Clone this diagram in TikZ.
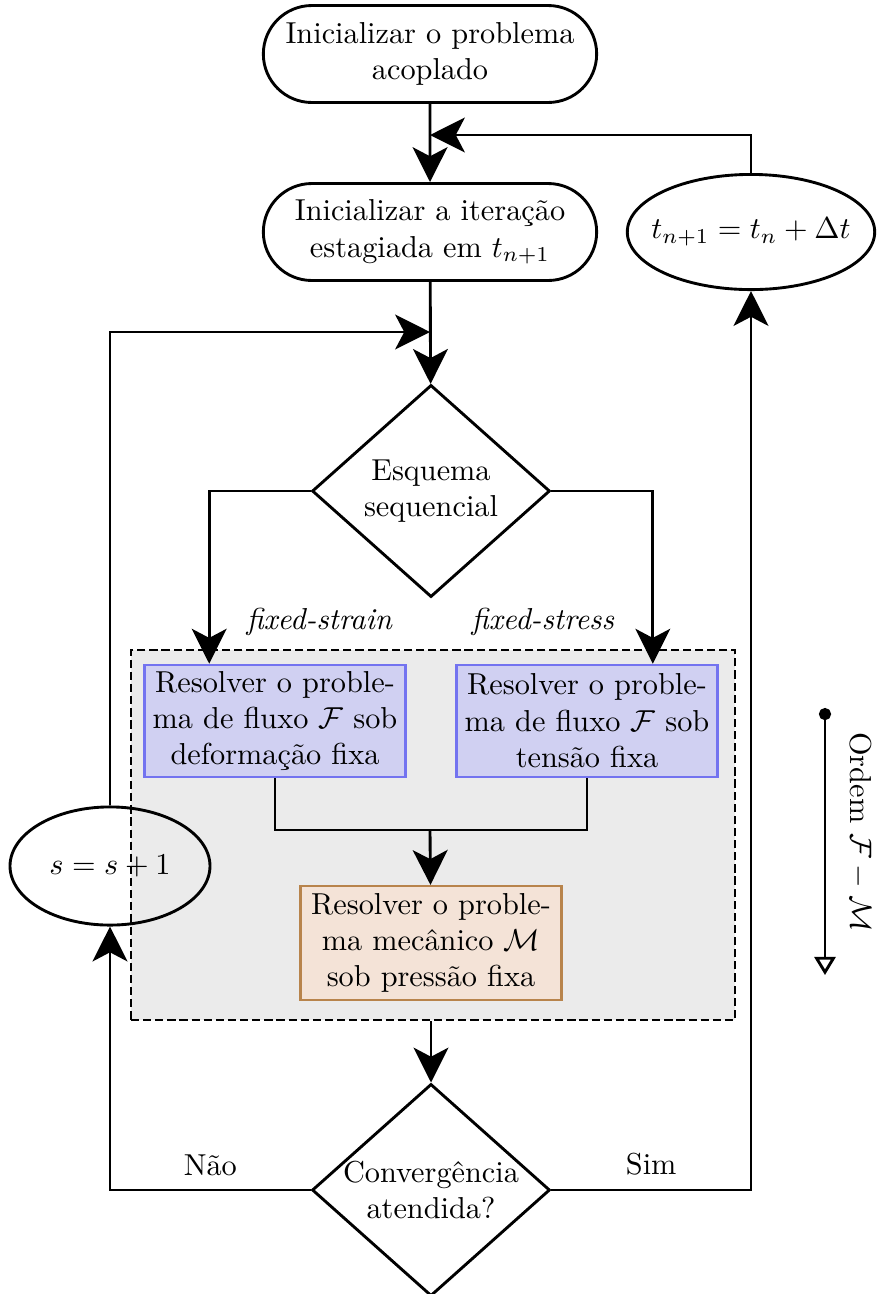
\documentclass[tikz,border=0pt]{standalone}
\usepackage{amsmath,amssymb}
\usepackage{tikz}
\usetikzlibrary{shapes.geometric,shapes.misc,arrows.meta,positioning,fit,backgrounds,calc}
\definecolor{flowBlue}{HTML}{D0D0F2}
\definecolor{flowBlueLine}{HTML}{7373F0}
\definecolor{mechTan}{HTML}{F4E3D7}
\definecolor{mechTanLine}{HTML}{B8844C}
\definecolor{frameGray}{HTML}{EBEBEB}

\begin{document}
\begin{tikzpicture}[
        x=0.33pt, y=-0.33pt,
        every node/.style={font=\normalsize},
        term/.style={rounded rectangle,draw,line width=0.95pt,minimum width=114pt,
                     minimum height=32pt,inner sep=2pt,align=center},
        oval/.style={ellipse,draw,line width=0.95pt,inner sep=0pt,align=center},
        decision/.style={diamond,draw,line width=0.95pt,minimum width=78.5pt,
                         minimum height=70pt,inner sep=-4pt,align=center},
        flowbox/.style={rectangle,draw=flowBlueLine,fill=flowBlue,line width=0.85pt,
                        minimum width=86pt,minimum height=37pt,inner sep=2pt,align=center},
        mechbox/.style={rectangle,draw=mechTanLine,fill=mechTan,line width=0.85pt,
                        minimum width=86pt,minimum height=37.5pt,inner sep=2pt,align=center},
        frame/.style={rectangle,draw,dash pattern=on 2.7pt off 1.3pt,fill=frameGray,
                      line width=0.75pt,inner sep=0pt},
        arr/.style={-{Stealth[length=11.5pt,width=11.5pt,inset=3pt]},line width=0.95pt},
        line/.style={line width=0.95pt}
      ]
        \useasboundingbox (0,0) rectangle (877,1294);

        % main column
        \node[term] (init) at (430,54) {Inicializar o problema\\acoplado};
        \node[term] (stage) at (430,232) {Inicializar a itera\c{c}\~ao\\estagiada em $t_{n+1}$};
        \node[oval,minimum width=80pt,minimum height=38pt,inner sep=-4pt] (tstep) at (751,232) {$t_{n+1} = t_n + \Delta t$};
        \node[decision] (scheme) at (431,491) {Esquema\\sequencial};

        % staggered solvers
        \node[flowbox] (strain) at (275,721) {Resolver o proble-\\ma de fluxo $\mathcal{F}$ sob\\deforma\c{c}\~ao fixa};
        \node[flowbox] (stress) at (587,721) {Resolver o proble-\\ma de fluxo $\mathcal{F}$ sob\\tens\~ao fixa};
        \node[mechbox] (mech) at (431,943) {Resolver o proble-\\ma mec\^anico $\mathcal{M}$\\sob press\~ao fixa};
        \begin{scope}[on background layer]
          \node[frame,fit={(131,650) (735,1020)}] (frm) {};
        \end{scope}

        \node[decision] (conv) at (431,1190) {Converg\^encia\\atendida?};
        \node[oval,minimum width=66pt,minimum height=39pt] (siter) at (110,866) {$s = s + 1$};

        \coordinate (tjoin) at (430,135);
        \coordinate (sjoin) at (430,332);
        \coordinate (merge) at (430,830);

        \draw[arr] (init) -- (stage);
        \draw[arr] (stage) -- (scheme);
        \draw[arr] (tstep.north) |- (tjoin);
        \draw[arr] (siter.north) |- (sjoin);
        \draw[arr] (scheme.west) -| ($(strain.north west)!0.25!(strain.north east)$)
          node[pos=0.88,right=8.5pt,font=\itshape] {fixed-strain};
        \draw[arr] (scheme.east) -| ($(stress.north west)!0.75!(stress.north east)$)
          node[pos=0.88,left=9pt,font=\itshape] {fixed-stress};
        \draw[line] (strain.south) |- (merge) -| (stress.south);
        \draw[arr] (merge) -- (mech);
        \draw[arr] (mech.south |- frm.south) -- (conv);
        \draw[arr] (conv.west) -| (siter.south) node[pos=0.25,above=1pt] {N\~ao};
        \draw[arr] (conv.east) -| (tstep.south) node[pos=0.25,above=1pt] {Sim};

        % ordem F-M
        \coordinate (otop) at (825,708);
        \coordinate (obot) at (825,975);
        \draw[{Circle[length=4pt]}-{Triangle[open,length=6pt,width=7pt]},line width=0.95pt] (otop) -- (obot);
        \node[rotate=-90,inner sep=1pt] (olabel) at (860,832) {Ordem $\mathcal{F} - \mathcal{M}$};
      \end{tikzpicture}
\end{document}
